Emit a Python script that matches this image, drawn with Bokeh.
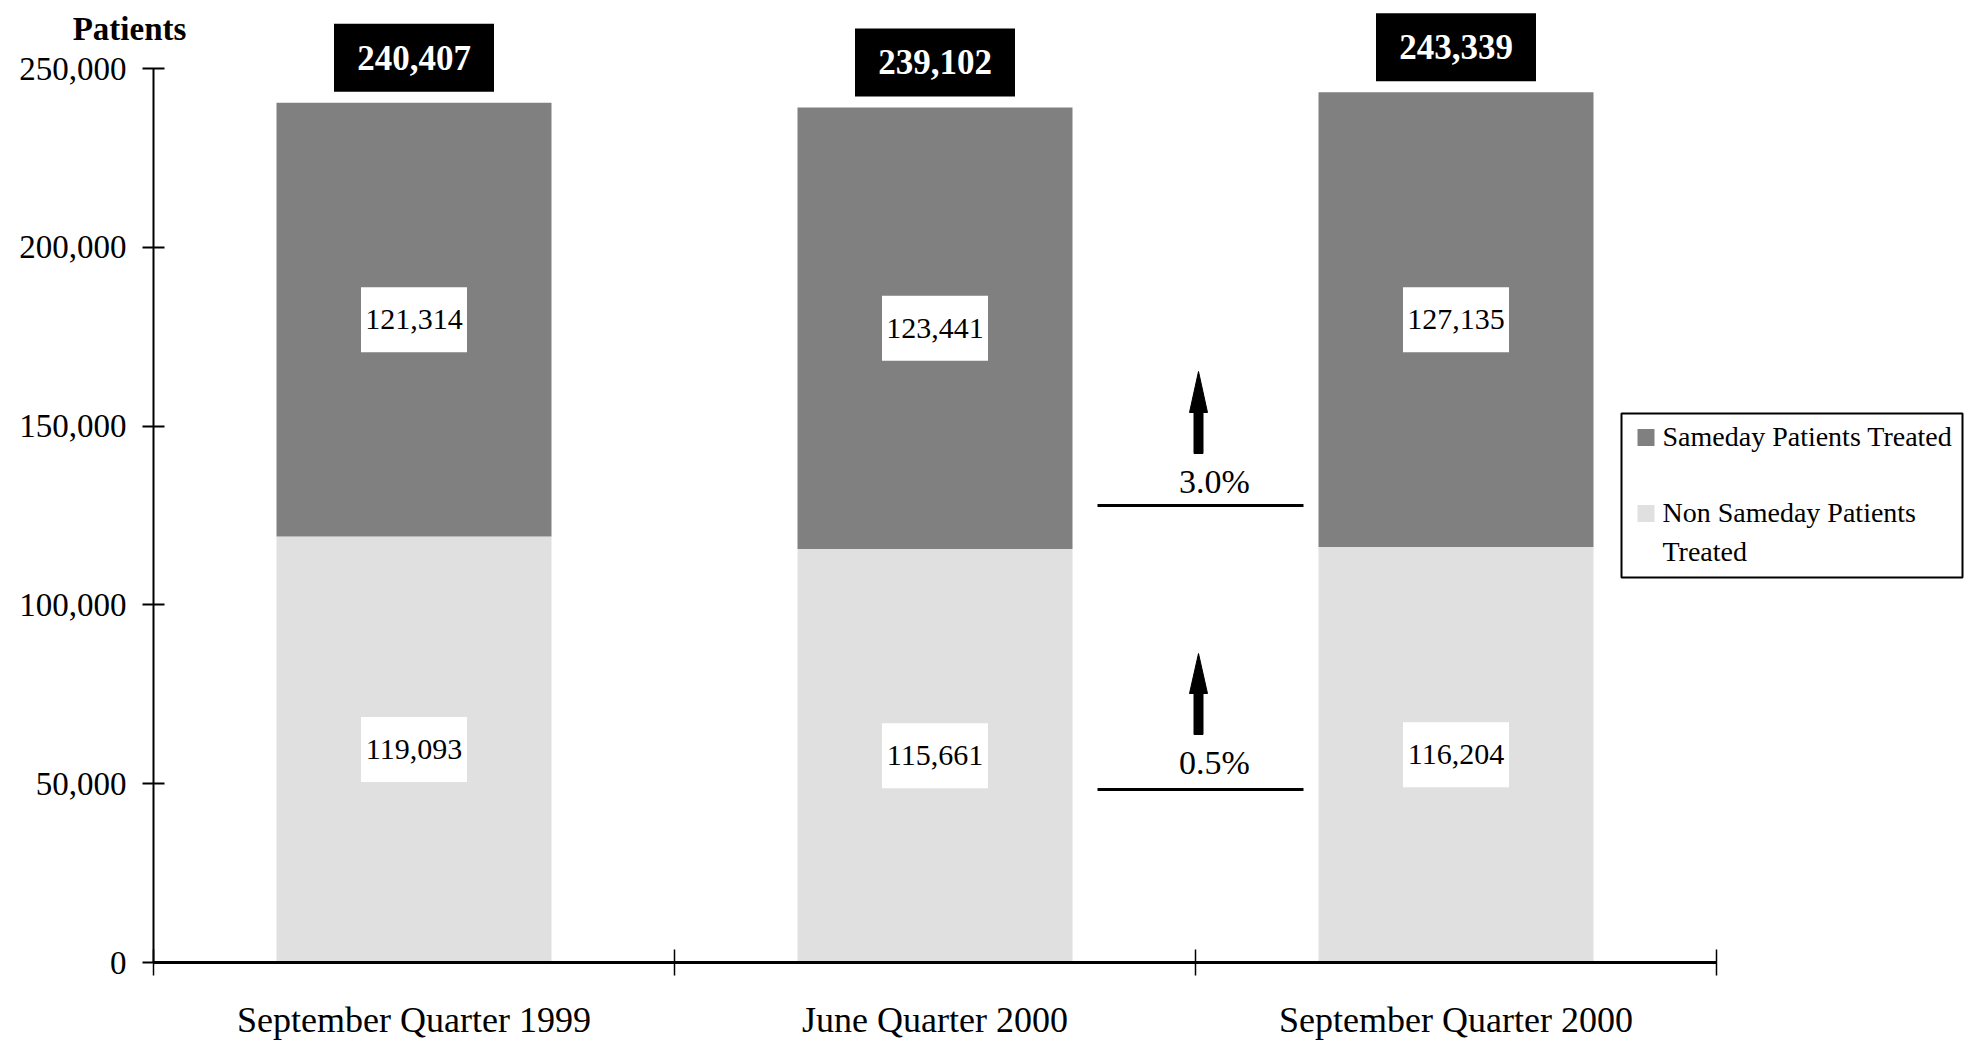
from bokeh.plotting import figure
from bokeh.models import (Range1d, FixedTicker, CustomJSTickFormatter,
                          NumeralTickFormatter, ColumnDataSource)
from bokeh.core.properties import value
from bokeh.embed import file_html
from bokeh.resources import INLINE

# ---------------- data ----------------
quarters = ["September Quarter 1999", "June Quarter 2000", "September Quarter 2000"]
non_sameday = [119093, 115661, 116204]
sameday = [121314, 123441, 127135]
totals = [240407, 239102, 243339]
change_labels = ["3.0%", "0.5%"]
y_ticks = [0, 50000, 100000, 150000, 200000, 250000]
legend_names = ["Sameday Patients Treated", "Non Sameday Patients", "Treated"]
y_title = "Patients"

# ---------------- style / layout ----------------
DARK = "#808080"
LIGHT = "#e0e0e0"
FONT = "Liberation Serif"
W, H = 1964, 1042
AXIS_X_PX, AXIS_Y_PX = 153, 962   # where the axes sit on the canvas
CAT_PX = 521                      # pixels per category slot
Y_MAX_TICK, Y_MAX_PX = 250000, 68
PX_PER_UNIT = (AXIS_Y_PX - Y_MAX_PX) / Y_MAX_TICK


def xd(px):
    return (px - AXIS_X_PX) / CAT_PX


def yd(py):
    return (AXIS_Y_PX - py) / PX_PER_UNIT


xc = [i + 0.5 for i in range(len(quarters))]

p = figure(width=W, height=H, output_backend="svg", toolbar_location=None,
           x_range=Range1d(xd(0), xd(W)), y_range=Range1d(yd(H), yd(0)),
           min_border=0)
p.outline_line_color = None
p.grid.grid_line_color = None
p.background_fill_color = "white"
p.border_fill_color = "white"

# bars
src = ColumnDataSource(dict(x=xc, non=non_sameday, tot=totals,
                            mid_s=[n + s / 2 for n, s in zip(non_sameday, sameday)],
                            mid_n=[n / 2 for n in non_sameday],
                            s_lab=[f"{v:,}" for v in sameday],
                            n_lab=[f"{v:,}" for v in non_sameday],
                            t_lab=[f"{v:,}" for v in totals],
                            t_box=[t + 45 / PX_PER_UNIT for t in totals]))
BAR_W = 275 / CAT_PX
p.vbar(x="x", bottom=0, top="non", width=BAR_W, fill_color=LIGHT, line_color=None, source=src)
p.vbar(x="x", bottom="non", top="tot", width=BAR_W, fill_color=DARK, line_color=None, source=src)

# value boxes
for ycol, lab in (("mid_s", "s_lab"), ("mid_n", "n_lab")):
    p.rect(x="x", y=ycol, width=106, height=65, width_units="screen", height_units="screen",
           fill_color="white", line_color=None, source=src)
    p.text(x="x", y=ycol, text=lab, text_align="center", text_baseline="middle",
           text_font=value(FONT), text_font_size="30px", text_color="black", source=src)

# total boxes
p.rect(x="x", y="t_box", width=160, height=68, width_units="screen", height_units="screen",
       fill_color="black", line_color=None, source=src)
p.text(x="x", y="t_box", text="t_lab", text_align="center", text_baseline="middle",
       text_font=value(FONT), text_font_size="35px", text_font_style="bold",
       text_color="white", source=src)

# change annotations (line, label, arrow)
ann_line_px = [505, 789]
ann_text_px = [481, 762]
ann_arrow_px = [(371, 412, 453), (653, 693, 734)]
AX = 1198
p.segment(x0=[xd(1097)] * 2, x1=[xd(1303)] * 2,
          y0=[yd(v) for v in ann_line_px], y1=[yd(v) for v in ann_line_px],
          line_color="black", line_width=3)
p.text(x=[xd(1214)] * 2, y=[yd(v) for v in ann_text_px], text=change_labels,
       text_align="center", text_baseline="middle",
       text_font=value(FONT), text_font_size="34px", text_color="black")
xs, ys = [], []
for tip, hb, bot in ann_arrow_px:
    xs.append([xd(AX), xd(AX + 9), xd(AX + 4.5), xd(AX + 4.5), xd(AX - 4.5), xd(AX - 4.5), xd(AX - 9)])
    ys.append([yd(tip), yd(hb), yd(hb), yd(bot), yd(bot), yd(hb), yd(hb)])
p.patches(xs, ys, fill_color="black", line_color="black", line_width=1)

# legend
p.quad(left=[xd(1621)], right=[xd(1962)], top=[yd(413)], bottom=[yd(577)],
       fill_color="white", line_color="black", line_width=2)
p.rect(x=[xd(1645.5)] * 2, y=[yd(437), yd(513)], width=17, height=17,
       width_units="screen", height_units="screen",
       fill_color=[DARK, LIGHT], line_color=None)
p.text(x=[xd(1662)] * 3, y=[yd(436), yd(512), yd(551)], text=legend_names,
       text_align="left", text_baseline="middle",
       text_font=value(FONT), text_font_size="28px", text_color="black")

# y title
p.text(x=[xd(129)], y=[yd(28)], text=[y_title], text_align="center", text_baseline="middle",
       text_font=value(FONT), text_font_size="33px", text_font_style="bold",
       text_color="black")

# axes (pinned at data 0 so they take no border space)
ya = p.yaxis[0]
ya.fixed_location = 0
ya.ticker = FixedTicker(ticks=y_ticks)
ya.formatter = NumeralTickFormatter(format="0,0")
ya.bounds = (0, Y_MAX_TICK)
ya.axis_line_width = 2
ya.axis_line_color = "black"
ya.major_tick_in = 11
ya.major_tick_out = 11
ya.major_tick_line_width = 2
ya.minor_tick_line_color = None
ya.major_label_standoff = 16
ya.major_label_text_font = FONT
ya.major_label_text_font_size = "33px"
ya.major_label_text_color = "black"

xa = p.xaxis[0]
xa.fixed_location = 0
xa.ticker = FixedTicker(ticks=xc, minor_ticks=list(range(len(quarters) + 1)))
xa.formatter = CustomJSTickFormatter(args=dict(labels=quarters),
                                     code="return labels[Math.floor(tick)] || '';")
xa.bounds = (0, len(quarters))
xa.axis_line_width = 3
xa.axis_line_color = "black"
xa.major_tick_in = 0
xa.major_tick_out = 0
xa.minor_tick_in = 13
xa.minor_tick_out = 13
xa.minor_tick_line_width = 1.5
xa.minor_tick_line_color = "black"
xa.major_label_standoff = 24
xa.major_label_text_font = FONT
xa.major_label_text_font_size = "36px"
xa.major_label_text_color = "black"

open("out.html", "w").write(file_html(p, INLINE))
